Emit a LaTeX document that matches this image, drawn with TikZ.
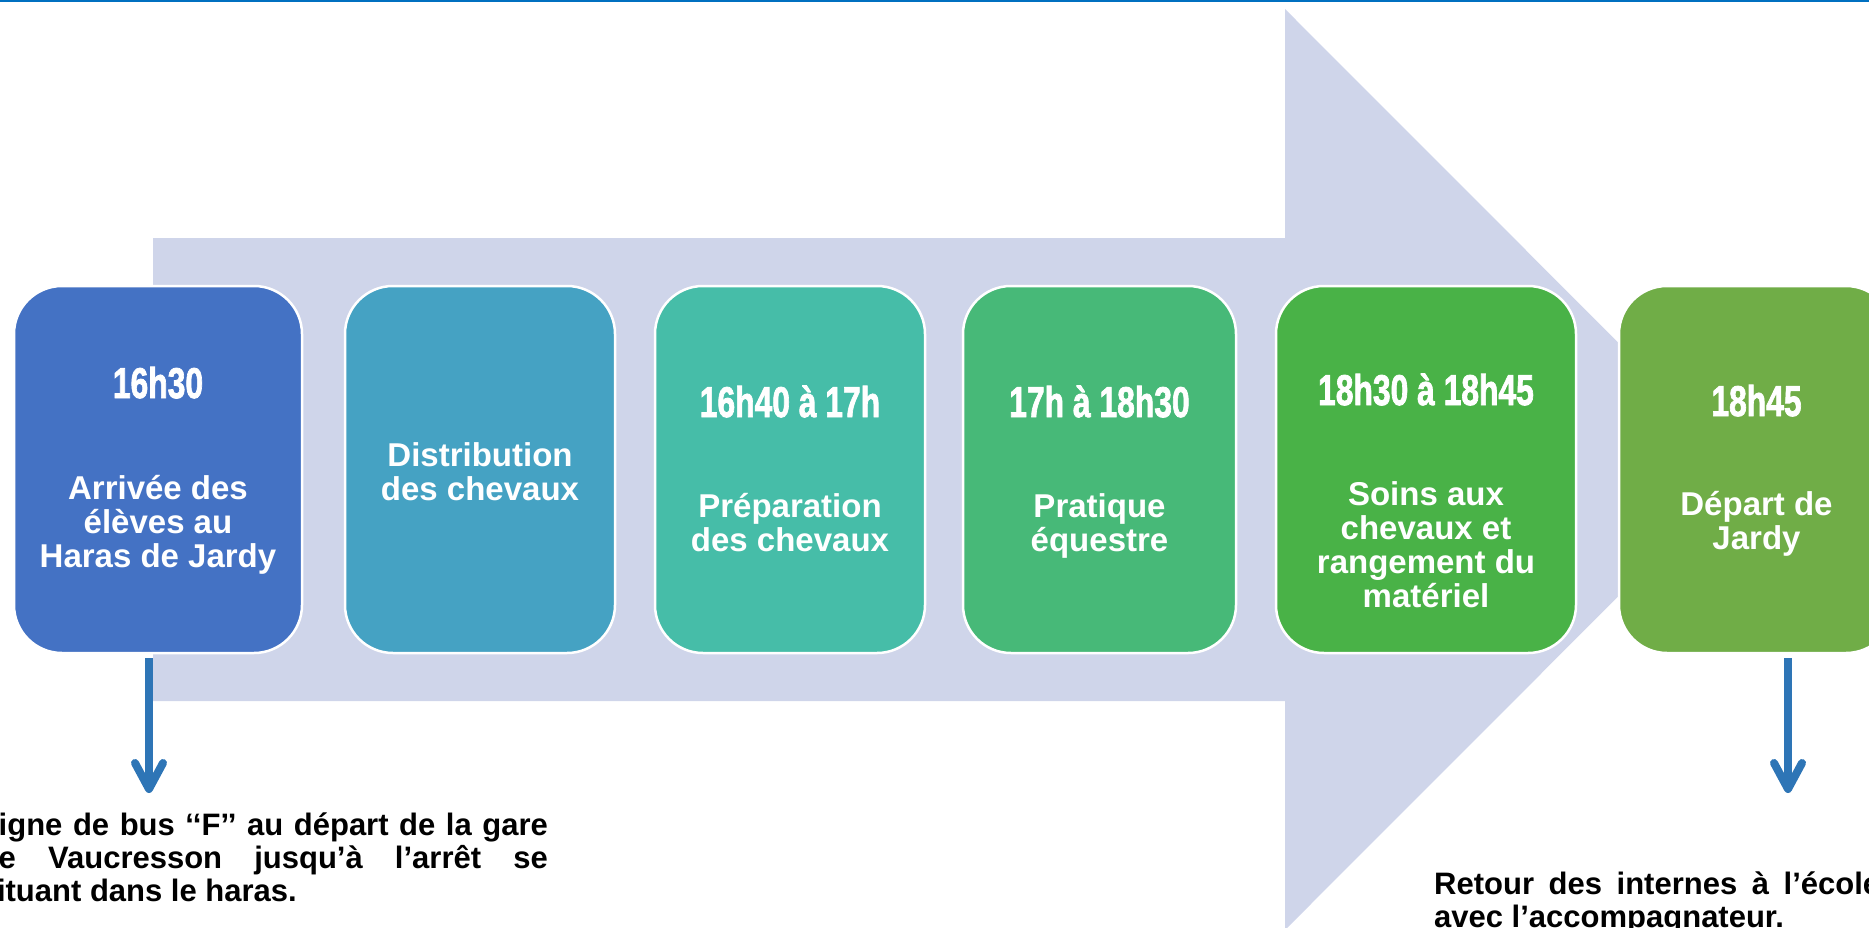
\documentclass[tikz,border=0pt]{standalone}
\usepackage{fontspec}
\setmainfont{Liberation Sans}
\newfontfamily\timefont{Liberation Sans Bold}[FakeBold=2]
\usetikzlibrary{arrows.meta}

\definecolor{toplinecol}{HTML}{0070C0}
\definecolor{arrowcol}{HTML}{CFD5EA}
\definecolor{stepa}{HTML}{4472C4}
\definecolor{stepb}{HTML}{45A2C3}
\definecolor{stepc}{HTML}{46BDA8}
\definecolor{stepd}{HTML}{47B978}
\definecolor{stepe}{HTML}{49B247}
\definecolor{stepf}{HTML}{70AD47}
\definecolor{downcol}{HTML}{2E75B6}

\newcommand{\timetext}[1]{\scalebox{0.74}[1]{#1}}

\begin{document}
\begin{tikzpicture}[x=1pt, y=-1pt,
        stepbox/.style={draw=white, line width=2.5pt, rounded corners=48pt,
            minimum height=367pt, inner sep=0pt},
        timelabel/.style={anchor=base, inner sep=0pt, text=white,
            font=\fontsize{43}{43}\timefont},
        desclabel/.style={anchor=north, align=center, inner sep=0pt, text=white,
            font=\fontsize{33}{34}\selectfont\bfseries},
        note/.style={align=justify, inner sep=0pt,
            font=\fontsize{31}{33}\selectfont\bfseries},
        downarrow/.style={draw=downcol, line width=8pt, shorten <=4pt,
            -{Straight Barb[length=26pt, width=28pt, round]}}]

        \useasboundingbox (0,0) rectangle (1869,927);

        % top line
        \draw[toplinecol, line width=2pt] (0,1) -- (1869,1);

        % big arrow
        \fill[arrowcol] (153,238) -- (1285,238) -- (1285,9) -- (1745,469.5)
            -- (1285,930) -- (1285,701) -- (153,701) -- cycle;

        % steps
        \node[stepbox, fill=stepa, minimum width=288pt] (arrivee) at (158,469.5) {};
        \node[stepbox, fill=stepb, minimum width=270pt] (distribution) at (480,469.5) {};
        \node[stepbox, fill=stepc, minimum width=270pt] (preparation) at (790,469.5) {};
        \node[stepbox, fill=stepd, minimum width=273pt] (pratique) at (1099.5,469.5) {};
        \node[stepbox, fill=stepe, minimum width=300pt] (soins) at (1426,469.5) {};
        \node[stepbox, fill=stepf, minimum width=275pt] (depart) at (1756.5,469.5) {};

        % times
        \node[timelabel] (arriveetime) at (158,398) {\timetext{16h30}};
        \node[timelabel] (preparationtime) at (790,417) {\timetext{16h40 à 17h}};
        \node[timelabel] (pratiquetime) at (1099.5,417) {\timetext{17h à 18h30}};
        \node[timelabel] (soinstime) at (1426,405) {\timetext{18h30 à 18h45}};
        \node[timelabel] (departtime) at (1756.5,416) {\timetext{18h45}};

        % step texts
        \node[desclabel] (arriveetext) at (158,475) {Arrivée des\\élèves au\\Haras de Jardy};
        \node[desclabel] (distributiontext) at (480,442) {Distribution\\des chevaux};
        \node[desclabel] (preparationtext) at (790,493) {Préparation\\des chevaux};
        \node[desclabel] (pratiquetext) at (1099.5,493) {Pratique\\équestre};
        \node[desclabel] (soinstext) at (1426,481) {Soins aux\\chevaux et\\rangement du\\matériel};
        \node[desclabel] (departtext) at (1756.5,491) {Départ de\\Jardy};

        % down arrows
        \coordinate (busarrow) at (149,793);
        \coordinate (retourarrow) at (1788,793);
        \draw[downarrow] (arrivee.south -| busarrow) -- (busarrow);
        \draw[downarrow] (depart.south -| retourarrow) -- (retourarrow);

        % notes
        \node[note, text width=568pt, anchor=north east] (bustext) at (548,813)
            {Ligne de bus ‘‘F’’ au départ de la gare\linebreak de Vaucresson jusqu’à l’arrêt se\linebreak situant dans le haras.};
        \node[note, text width=446pt, anchor=north west] (retourtext) at (1434,872)
            {Retour des internes à l’école\linebreak avec l’accompagnateur.};

    \end{tikzpicture}
\end{document}
